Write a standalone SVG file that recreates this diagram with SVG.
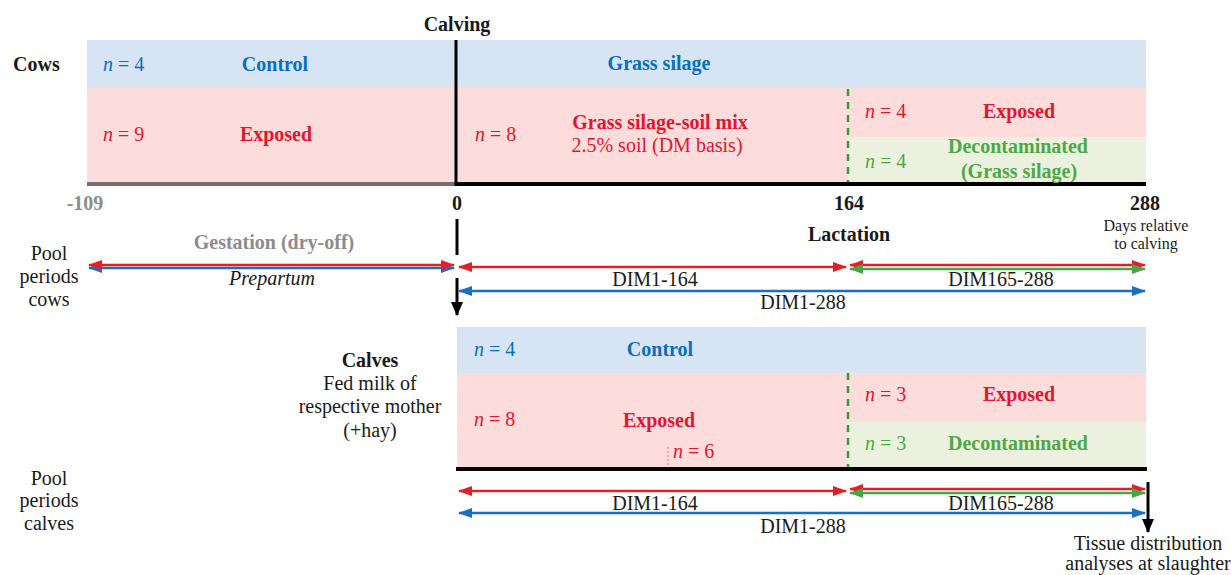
<svg xmlns="http://www.w3.org/2000/svg" width="1231" height="575" viewBox="0 0 1231 575">
<style>
text{font-family:'Liberation Serif','DejaVu Serif',serif;font-size:20px}
.b{font-weight:bold}
.i{font-style:italic}
.m{text-anchor:middle}
.blue{fill:#0a6ec0}
.red{fill:#e3152d}
.green{fill:#4ea844}
.gray{fill:#8c8c8c}
.k{fill:#1a1a1a}
.bb{fill:#d7e4f3}
.pb{fill:#fddcdc}
.gb{fill:#ebf1de}
.dash{stroke:#3a9a3a;stroke-width:2.5;stroke-dasharray:7,6;fill:none}
.ar{stroke-width:2.5;fill:none}
.r{stroke:#e3202a}
.bl{stroke:#1a6fc4}
.g{stroke:#4aa347}
</style>
<defs>
<marker id="mr" viewBox="0 0 14 10" refX="13" refY="5" markerWidth="14" markerHeight="10" markerUnits="userSpaceOnUse" orient="auto-start-reverse"><path d="M0,0L14,5L0,10z" fill="#e3202a"/></marker>
<marker id="mb" viewBox="0 0 14 10" refX="13" refY="5" markerWidth="14" markerHeight="10" markerUnits="userSpaceOnUse" orient="auto-start-reverse"><path d="M0,0L14,5L0,10z" fill="#1a6fc4"/></marker>
<marker id="mg" viewBox="0 0 14 10" refX="13" refY="5" markerWidth="14" markerHeight="10" markerUnits="userSpaceOnUse" orient="auto-start-reverse"><path d="M0,0L14,5L0,10z" fill="#4aa347"/></marker>
<marker id="mk" viewBox="0 0 12 14" refX="6" refY="13" markerWidth="12" markerHeight="14" markerUnits="userSpaceOnUse" orient="0"><path d="M0,0L12,0L6,14z" fill="#000"/></marker>
</defs>

<g id="cows-panel">
<rect class="bb" x="87" y="40" width="1059" height="48"/>
<rect class="pb" x="87" y="88" width="1059" height="94"/>
<rect class="gb" x="848" y="137" width="298" height="45"/>
<line x1="87" y1="184" x2="456" y2="184" stroke="#7a6c6c" stroke-width="4"/>
<line x1="456" y1="184" x2="1146" y2="184" stroke="#000" stroke-width="4"/>
<line x1="456" y1="40" x2="456" y2="186" stroke="#000" stroke-width="3"/>
<line class="dash" x1="848" y1="89" x2="848" y2="182"/>
</g>

<g id="cows-labels">
<text class="b k" x="13" y="71">Cows</text>
<text class="b k m" x="457" y="31">Calving</text>
<text class="i blue" x="103" y="71">n<tspan font-style="normal"> = 4</tspan></text>
<text class="b blue m" x="275" y="71">Control</text>
<text class="i red" x="103" y="141">n<tspan font-style="normal"> = 9</tspan></text>
<text class="b red m" x="276" y="141">Exposed</text>
<text class="b blue m" x="659" y="70">Grass silage</text>
<text class="i red" x="475" y="141">n<tspan font-style="normal"> = 8</tspan></text>
<text class="b red m" x="660" y="129">Grass silage-soil mix</text>
<text class="red m" x="657" y="152">2.5% soil (DM basis)</text>
<text class="i red" x="865" y="118">n<tspan font-style="normal"> = 4</tspan></text>
<text class="b red m" x="1019" y="118">Exposed</text>
<text class="i green" x="865" y="168">n<tspan font-style="normal"> = 4</tspan></text>
<text class="b green m" x="1018" y="153">Decontaminated</text>
<text class="b green m" x="1019" y="178">(Grass silage)</text>
</g>

<g id="axis-labels">
<text class="b gray m" x="85" y="210">-109</text>
<text class="b k m" x="457" y="210">0</text>
<text class="b k m" x="849" y="210">164</text>
<text class="b k m" x="1145" y="210">288</text>
<text class="k m" x="1146" y="231" style="font-size:16px">Days relative</text>
<text class="k m" x="1146" y="249" style="font-size:16px">to calving</text>
<text class="b gray m" x="274" y="249">Gestation (dry-off)</text>
<text class="b k m" x="849" y="241">Lactation</text>
<text class="k m" x="49" y="260">Pool</text>
<text class="k m" x="49" y="283">periods</text>
<text class="k m" x="49" y="306">cows</text>
<text class="i k m" x="272" y="285">Prepartum</text>
<text class="k m" x="655" y="286">DIM1-164</text>
<text class="k m" x="1001" y="286">DIM165-288</text>
<text class="k m" x="803" y="309">DIM1-288</text>
</g>

<g id="calves-panel">
<rect class="bb" x="457" y="327" width="689" height="46"/>
<rect class="pb" x="457" y="373" width="689" height="94"/>
<rect class="gb" x="848" y="422" width="298" height="45"/>
<line x1="456" y1="469" x2="1147" y2="469" stroke="#000" stroke-width="4"/>
<line class="dash" x1="848" y1="373" x2="848" y2="467"/>
<line x1="668" y1="447" x2="668" y2="467" stroke="#e3808a" stroke-width="1.2" stroke-dasharray="2,2"/>
</g>

<g id="calves-labels">
<text class="b k m" x="370" y="367">Calves</text>
<text class="k m" x="370" y="390">Fed milk of</text>
<text class="k m" x="370" y="413">respective mother</text>
<text class="k m" x="370" y="437">(+hay)</text>
<text class="i blue" x="474" y="356">n<tspan font-style="normal"> = 4</tspan></text>
<text class="b blue m" x="660" y="356">Control</text>
<text class="i red" x="474" y="426">n<tspan font-style="normal"> = 8</tspan></text>
<text class="b red m" x="659" y="427">Exposed</text>
<text class="i red" x="673" y="458">n<tspan font-style="normal"> = 6</tspan></text>
<text class="i red" x="865" y="401">n<tspan font-style="normal"> = 3</tspan></text>
<text class="b red m" x="1019" y="401">Exposed</text>
<text class="i green" x="865" y="450">n<tspan font-style="normal"> = 3</tspan></text>
<text class="b green m" x="1018" y="450">Decontaminated</text>
<text class="k m" x="49" y="485">Pool</text>
<text class="k m" x="49" y="507">periods</text>
<text class="k m" x="49" y="530">calves</text>
<text class="k m" x="655" y="510">DIM1-164</text>
<text class="k m" x="1001" y="510">DIM165-288</text>
<text class="k m" x="803" y="533">DIM1-288</text>
<text class="k m" x="1148" y="550">Tissue distribution</text>
<text class="k m" x="1148" y="570">analyses at slaughter</text>
</g>

<g id="connectors">
<line x1="457" y1="219" x2="457" y2="255" stroke="#000" stroke-width="3"/>
<line x1="457" y1="278" x2="457" y2="315" stroke="#000" stroke-width="3" marker-end="url(#mk)"/>
<line class="ar bl" x1="89" y1="268" x2="454" y2="268" marker-start="url(#mb)" marker-end="url(#mb)"/>
<line class="ar r" x1="89" y1="265" x2="454" y2="265" marker-start="url(#mr)" marker-end="url(#mr)"/>
<line class="ar r" x1="459" y1="267" x2="846" y2="267" marker-start="url(#mr)" marker-end="url(#mr)"/>
<line class="ar r" x1="850" y1="265" x2="1145" y2="265" marker-start="url(#mr)" marker-end="url(#mr)"/>
<line class="ar g" x1="850" y1="269" x2="1145" y2="269" marker-start="url(#mg)" marker-end="url(#mg)"/>
<line class="ar bl" x1="459" y1="291" x2="1145" y2="291" marker-start="url(#mb)" marker-end="url(#mb)"/>
<line class="ar r" x1="459" y1="491" x2="846" y2="491" marker-start="url(#mr)" marker-end="url(#mr)"/>
<line class="ar r" x1="850" y1="489" x2="1145" y2="489" marker-start="url(#mr)" marker-end="url(#mr)"/>
<line class="ar g" x1="850" y1="493" x2="1145" y2="493" marker-start="url(#mg)" marker-end="url(#mg)"/>
<line class="ar bl" x1="459" y1="513" x2="1145" y2="513" marker-start="url(#mb)" marker-end="url(#mb)"/>
<line x1="1148" y1="482" x2="1148" y2="532" stroke="#000" stroke-width="3" marker-end="url(#mk)"/>
</g>
</svg>
